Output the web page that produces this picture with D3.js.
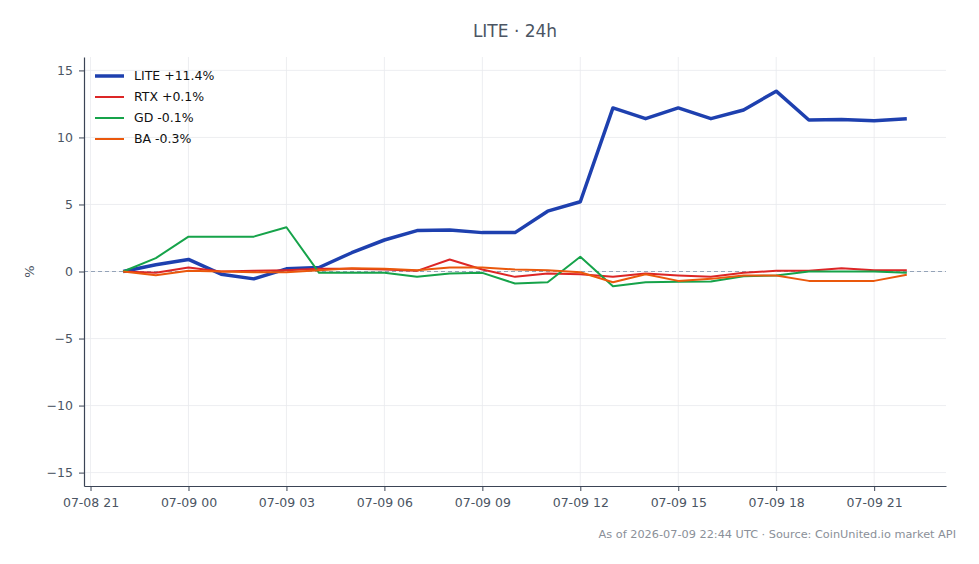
<!DOCTYPE html>
<html lang="en">
  <head>
    <meta charset="utf-8">
    <title>LITE 24h</title>
    <script src="https://d3js.org/d3.v7.js"></script>
    <style>
      body { margin: 0; background: #fff; }
      text { font-family: "DejaVu Sans", sans-serif; }
    </style>
  </head>

  <body>
    <script>
      // hourly points, UTC
      const times = [
        "2026-07-08 22", "2026-07-08 23", "2026-07-09 00", "2026-07-09 01", "2026-07-09 02",
        "2026-07-09 03", "2026-07-09 04", "2026-07-09 05", "2026-07-09 06", "2026-07-09 07",
        "2026-07-09 08", "2026-07-09 09", "2026-07-09 10", "2026-07-09 11", "2026-07-09 12",
        "2026-07-09 13", "2026-07-09 14", "2026-07-09 15", "2026-07-09 16", "2026-07-09 17",
        "2026-07-09 18", "2026-07-09 19", "2026-07-09 20", "2026-07-09 21", "2026-07-09 22"
      ];

      const lite = [0, 0.5, 0.9, -0.2, -0.55, 0.2, 0.3, 1.4, 2.35, 3.05, 3.1, 2.9, 2.9,
        4.5, 5.2, 12.2, 11.4, 12.2, 11.4, 12.05, 13.45, 11.3, 11.33, 11.25, 11.4];
      const rtx = [0, -0.1, 0.3, 0.0, 0.05, 0.1, 0.2, 0.2, 0.15, 0.05, 0.9, 0.15, -0.4,
        -0.15, -0.2, -0.4, -0.15, -0.3, -0.4, -0.1, 0.05, 0.05, 0.25, 0.1, 0.1];
      const gd = [0, 1.0, 2.6, 2.6, 2.6, 3.3, -0.1, -0.1, -0.1, -0.4, -0.15, -0.1, -0.9,
        -0.8, 1.1, -1.1, -0.8, -0.77, -0.75, -0.35, -0.3, 0, 0, 0, -0.1];
      const ba = [0, -0.28, 0.05, 0.0, -0.05, -0.05, 0.1, 0.25, 0.2, 0.1, 0.3, 0.3, 0.15,
        0.1, -0.05, -0.8, -0.2, -0.7, -0.55, -0.3, -0.3, -0.7, -0.7, -0.7, -0.25];

      const seriesNames = ["LITE +11.4%", "RTX +0.1%", "GD -0.1%", "BA -0.3%"];
      const seriesValues = [lite, rtx, gd, ba];
      const colors = ["#1e40af", "#dc2626", "#16a34a", "#ea580c"];
      const widths = [3.5, 2, 2, 2];

      const xTicks = ["2026-07-08 21", "2026-07-09 00", "2026-07-09 03", "2026-07-09 06",
        "2026-07-09 09", "2026-07-09 12", "2026-07-09 15", "2026-07-09 18", "2026-07-09 21"];
      const yTicks = [-15, -10, -5, 0, 5, 10, 15];

      const w = 979;
      const h = 564;
      const margin = { top: 57, right: 33, bottom: 78, left: 84 };
      const innerWidth = w - margin.left - margin.right;
      const innerHeight = h - margin.top - margin.bottom;

      const parse = d3.utcParse("%Y-%m-%d %H");
      const dates = times.map(parse);

      const svg = d3.select("body")
        .append("svg")
        .attr("width", w)
        .attr("height", h);

      // 5% padding each side like matplotlib
      const span = dates[dates.length - 1] - dates[0];
      const xScale = d3.scaleUtc()
        .domain([new Date(+dates[0] - span * 0.05), new Date(+dates[dates.length - 1] + span * 0.05)])
        .range([0, innerWidth]);

      const yScale = d3.scaleLinear()
        .domain([-16, 16])
        .range([innerHeight, 0]);

      const g = svg.append("g")
        .attr("transform", `translate(${margin.left}, ${margin.top})`);

      // grid
      g.append("g").selectAll("line")
        .data(yTicks)
        .join("line")
        .attr("x1", 0).attr("x2", innerWidth)
        .attr("y1", d => yScale(d)).attr("y2", d => yScale(d))
        .attr("stroke", "#e8eaee").attr("stroke-width", 0.8);

      g.append("g").selectAll("line")
        .data(xTicks.map(parse))
        .join("line")
        .attr("x1", d => xScale(d)).attr("x2", d => xScale(d))
        .attr("y1", 0).attr("y2", innerHeight)
        .attr("stroke", "#e8eaee").attr("stroke-width", 0.8);

      // zero line
      g.append("line")
        .attr("x1", 0).attr("x2", innerWidth)
        .attr("y1", yScale(0)).attr("y2", yScale(0))
        .attr("stroke", "#94a3b8")
        .attr("stroke-width", 1)
        .attr("stroke-dasharray", "4,3");

      const line = d3.line()
        .x((d, i) => xScale(dates[i]))
        .y(d => yScale(d));

      g.append("g").selectAll("path")
        .data(seriesValues)
        .join("path")
        .attr("d", d => line(d))
        .attr("fill", "none")
        .attr("stroke", (d, i) => colors[i])
        .attr("stroke-width", (d, i) => widths[i])
        .attr("stroke-linejoin", "round");

      // axes
      const xAxis = d3.axisBottom(xScale)
        .tickValues(xTicks.map(parse))
        .tickFormat(d3.utcFormat("%m-%d %H"))
        .tickSize(5)
        .tickSizeOuter(0)
        .tickPadding(7);

      const yAxis = d3.axisLeft(yScale)
        .tickValues(yTicks)
        .tickSize(5)
        .tickSizeOuter(0)
        .tickPadding(6);

      const gx = g.append("g")
        .attr("transform", `translate(0, ${innerHeight})`)
        .call(xAxis);
      const gy = g.append("g").call(yAxis);

      [gx, gy].forEach(a => {
        a.attr("font-size", null).attr("font-family", null);
        a.select(".domain").attr("stroke", "#3b4455").attr("stroke-width", 1.2);
        a.selectAll(".tick line").attr("stroke", "#3b4455");
        a.selectAll(".tick text")
          .attr("fill", "#4b5563")
          .style("font-size", "12.5px");
      });

      // y label
      svg.append("text")
        .attr("transform", `translate(34, ${margin.top + yScale(0)}) rotate(-90)`)
        .attr("text-anchor", "middle")
        .attr("fill", "#4b5563")
        .style("font-size", "13px")
        .text("%");

      // title
      svg.append("text")
        .attr("x", margin.left + innerWidth / 2)
        .attr("y", 37)
        .attr("text-anchor", "middle")
        .attr("fill", "#4b5563")
        .style("font-size", "17px")
        .text("LITE · 24h");

      // legend
      const legend = svg.append("g")
        .attr("transform", `translate(95, 76)`);
      const items = legend.selectAll("g")
        .data(seriesNames)
        .join("g")
        .attr("transform", (d, i) => `translate(0, ${i * 21})`);
      items.append("line")
        .attr("x1", 0).attr("x2", 29)
        .attr("stroke", (d, i) => colors[i])
        .attr("stroke-width", (d, i) => widths[i]);
      items.append("text")
        .attr("x", 39)
        .attr("dy", "0.35em")
        .attr("fill", "#111")
        .style("font-size", "12.5px")
        .text(d => d);

      // footer
      svg.append("text")
        .attr("x", 956)
        .attr("y", 538)
        .attr("text-anchor", "end")
        .attr("fill", "#8a8f98")
        .style("font-size", "11.3px")
        .text("As of 2026-07-09 22:44 UTC · Source: CoinUnited.io market API");
    </script>
  </body>
</html>
